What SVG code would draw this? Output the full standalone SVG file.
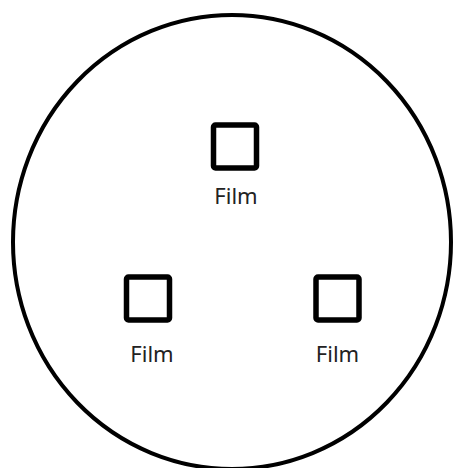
<svg xmlns="http://www.w3.org/2000/svg" width="453" height="468" viewBox="0 0 453 468">
<style>
.frame{fill:none;stroke:#000;stroke-width:4}
.box{fill:#fff;stroke:#000;stroke-width:5.5}
.lbl{font-family:"Noto Sans","DejaVu Sans",sans-serif;font-size:22px;fill:#222;text-anchor:middle}
</style>
<rect width="453" height="468" fill="#fff"/>
<g id="outline"><ellipse class="frame" cx="232" cy="242" rx="219" ry="227"/></g>
<g id="connectors"></g>
<g id="film-top">
<rect class="box" x="213.5" y="125" width="43" height="43" rx="2"/>
<text class="lbl" x="236" y="204">Film</text>
</g>
<g id="film-left">
<rect class="box" x="126.5" y="277" width="43" height="43" rx="2"/>
<text class="lbl" x="152" y="361.5">Film</text>
</g>
<g id="film-right">
<rect class="box" x="316" y="277" width="43" height="43" rx="2"/>
<text class="lbl" x="337.5" y="361.5">Film</text>
</g>
</svg>
